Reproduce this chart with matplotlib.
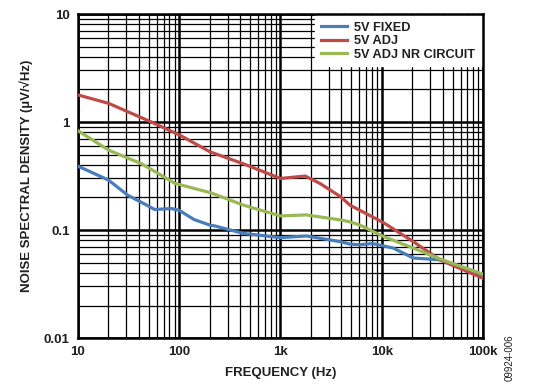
import matplotlib
matplotlib.use("Agg")
import matplotlib.pyplot as plt
from matplotlib.ticker import FixedLocator, LogLocator, NullFormatter

plt.rcParams['font.family'] = ['Liberation Sans', 'DejaVu Sans']

# frequencies (Hz) and noise (uV/rtHz)
freq_fixed = [10, 20, 31, 45, 57, 84, 100, 140, 201, 225, 430, 1000, 1800,
              3900, 4850, 6100, 8100, 13000, 20500, 37500, 100000]
nsd_fixed = [0.39, 0.29, 0.21, 0.175, 0.155, 0.158, 0.152, 0.125, 0.111, 0.109,
             0.093, 0.085, 0.088, 0.078, 0.074, 0.073, 0.075, 0.068, 0.055,
             0.053, 0.037]

freq_adj = [10, 20, 53, 100, 201, 225, 430, 1000, 1750, 2450, 3900, 4850,
            10400, 20500, 37500, 100000]
nsd_adj = [1.78, 1.49, 1.0, 0.76, 0.53, 0.51, 0.41, 0.30, 0.316, 0.27, 0.204,
           0.17, 0.117, 0.078, 0.053, 0.0357]

freq_nr = [10, 20, 42.5, 91, 201, 225, 430, 1000, 1800, 3900, 4850, 6100,
           10400, 20500, 37500, 100000]
nsd_nr = [0.83, 0.55, 0.41, 0.27, 0.222, 0.214, 0.17, 0.135, 0.138, 0.124,
          0.119, 0.111, 0.087, 0.068, 0.054, 0.039]

xticks = [10, 100, 1000, 10000, 100000]
xlabels = ['10', '100', '1k', '10k', '100k']
yticks = [0.01, 0.1, 1, 10]
ylabels = ['0.01', '0.1', '1', '10']

fig = plt.figure(figsize=(5.39, 3.90), dpi=100)
ax = fig.add_axes([0.1447, 0.1333, 0.7514, 0.8308])

ax.plot(freq_fixed, nsd_fixed, color='#4a7ebb', lw=2.3, label='5V FIXED', zorder=3)
ax.plot(freq_adj, nsd_adj, color='#be4b48', lw=2.3, label='5V ADJ', zorder=3)
ax.plot(freq_nr, nsd_nr, color='#98b954', lw=2.3, label='5V ADJ NR CIRCUIT', zorder=3)

ax.set_xscale('log')
ax.set_yscale('log')
ax.set_xlim(10, 100000)
ax.set_ylim(0.01, 10)

ax.xaxis.set_major_locator(FixedLocator(xticks))
ax.set_xticklabels(xlabels)
ax.yaxis.set_major_locator(FixedLocator(yticks))
ax.set_yticklabels(ylabels)
ax.xaxis.set_minor_locator(LogLocator(base=10, subs=range(2, 10)))
ax.yaxis.set_minor_locator(LogLocator(base=10, subs=range(2, 10)))
ax.xaxis.set_minor_formatter(NullFormatter())
ax.yaxis.set_minor_formatter(NullFormatter())

ax.grid(which='major', color='black', lw=1.8)
ax.grid(which='minor', color='black', lw=0.9)
ax.tick_params(which='both', length=0, labelsize=9.5, colors='#231f20', pad=6)
for lbl in ax.get_xticklabels() + ax.get_yticklabels():
    lbl.set_fontweight('bold')
for s in ax.spines.values():
    s.set_linewidth(1.8)

ax.set_xlabel('FREQUENCY (Hz)', fontsize=9.5, fontweight='bold', color='#231f20', labelpad=6)
ax.set_ylabel('NOISE SPECTRAL DENSITY (µV/√Hz)', fontsize=9.5, fontweight='bold',
              color='#231f20', labelpad=8)

leg = ax.legend(loc='upper right', fontsize=9.2, frameon=True, fancybox=False,
                borderaxespad=0.15, handlelength=2.0, labelspacing=0.12,
                borderpad=0.45, handletextpad=0.6)
leg.get_frame().set_edgecolor('white')
leg.get_frame().set_facecolor('white')
leg.get_frame().set_alpha(1)
leg.set_zorder(5)
for t in leg.get_texts():
    t.set_fontweight('bold')
    t.set_color('#231f20')

fig.text(0.946, 0.082, '09924-006', rotation=90, fontsize=7, color='#231f20',
         ha='center', va='center')

fig.savefig('out.png', dpi=100)
